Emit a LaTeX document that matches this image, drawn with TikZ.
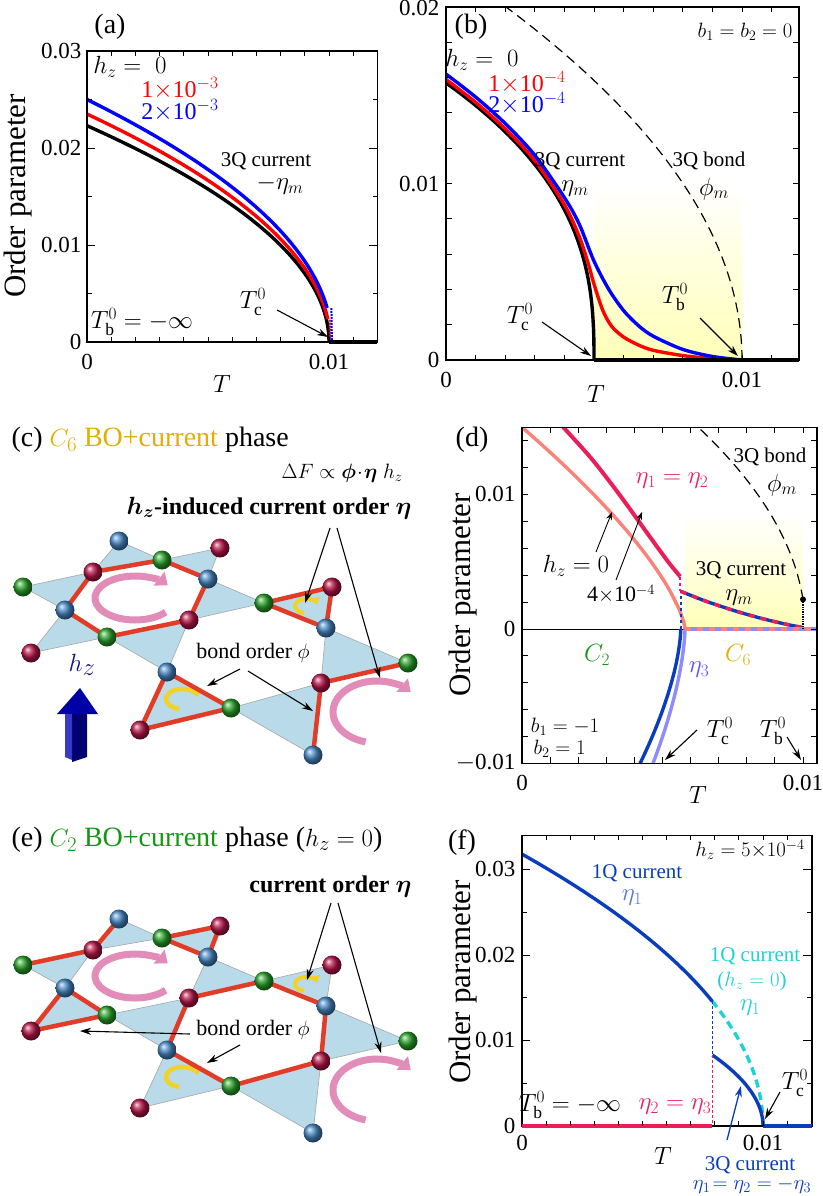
\documentclass[tikz,border=0pt]{standalone}
\usepackage{amsmath,amssymb,bm}
\usepackage{fontspec}
\setmainfont{Liberation Serif}
\usetikzlibrary{arrows.meta}
\definecolor{atB}{RGB}{70,135,195}
\definecolor{atR}{RGB}{180,20,70}
\definecolor{atG}{RGB}{40,160,40}
\definecolor{bondc}{RGB}{225,60,40}
\definecolor{trif}{RGB}{185,218,232}
\definecolor{pinkarc}{RGB}{225,140,185}
\definecolor{yarc}{RGB}{240,210,40}
\definecolor{crim}{RGB}{235,30,90}
\definecolor{salm}{RGB}{250,130,120}
\definecolor{lav}{RGB}{140,140,250}
\definecolor{dblue}{RGB}{10,60,190}
\definecolor{cyanc}{RGB}{30,210,210}
\definecolor{goldc}{RGB}{225,175,0}
\definecolor{grnc}{RGB}{20,150,20}
\definecolor{hzc}{RGB}{20,20,140}
\tikzset{
 tickl/.style={font=\fontsize{23}{24}\selectfont},
 axt/.style={font=\fontsize{31}{32}\selectfont},
 plab/.style={font=\fontsize{28}{29}\selectfont},
 ann/.style={font=\fontsize{21}{22}\selectfont},
 mA/.style={font=\fontsize{24}{25}\selectfont},
 mB/.style={font=\fontsize{25}{26}\selectfont},
 head/.style={font=\fontsize{28}{29}\selectfont, anchor=west},
 thk/.style={line width=3.4pt},
 arr/.style={-{Stealth[length=11pt,width=7pt]}, line width=1.1pt},
 bond/.style={bondc, line width=4.5pt, line cap=round},
 tri/.style={fill=trif, draw=gray!70, line width=0.6pt}
}
\newcommand\AtB[1]{\shade[ball color=atB] (#1) circle (9.5);}
\newcommand\AtR[1]{\shade[ball color=atR] (#1) circle (9.5);}
\newcommand\AtG[1]{\shade[ball color=atG] (#1) circle (9.5);}
\newcommand\LatCoords{%
 \coordinate (R1) at (93,572); \coordinate (G1) at (162,560); \coordinate (B1) at (208,579);
 \coordinate (R2) at (189,620); \coordinate (G2) at (107,637); \coordinate (B2) at (65,610);
 \coordinate (B0) at (119,541); \coordinate (R0) at (220,548); \coordinate (G3) at (264,603);
 \coordinate (B3) at (167,672); \coordinate (R3) at (31,653); \coordinate (G0) at (23,587);
 \coordinate (B4) at (326,628); \coordinate (R4) at (321,683); \coordinate (G4) at (231,708);
 \coordinate (R5) at (332,587); \coordinate (G5) at (408,663); \coordinate (B5) at (313,755);
 \coordinate (R6) at (140,730);}
\newcommand\LatTris{%
 \foreach \a/\b/\c in {R1/G1/B0,G1/B1/R0,B1/R2/G3,R2/G2/B3,G2/B2/R3,B2/R1/G0,G3/B4/R5,B4/R4/G5,R4/G4/B5,G4/B3/R6}
   {\draw[tri] (\a)--(\b)--(\c)--cycle;}
 \begin{scope}
 \clip (0,400) rectangle (418,1196);
 \draw[pinkarc, line width=7pt, -{Triangle[width=17pt,length=11pt]}] (135,598) ++(40:40 and 22) arc (40:325:40 and 22);
 \draw[pinkarc, line width=7pt, -{Triangle[width=17pt,length=11pt]}] (377,712) ++(105:44 and 31) arc (105:320:44 and 31);
 \end{scope}
 \draw[yarc, line width=4pt, -{Triangle[width=10pt,length=7pt]}] (306,606) ++(100:11 and 7) arc (100:350:11 and 7);
 \draw[yarc, line width=4.5pt, -{Triangle[width=12pt,length=8pt]}] (182,699) ++(100:16 and 10) arc (100:350:16 and 10);}
\newcommand\LatAtoms{%
 \AtB{B0}\AtB{B1}\AtB{B2}\AtB{B3}\AtB{B4}\AtB{B5}
 \AtR{R0}\AtR{R1}\AtR{R2}\AtR{R3}\AtR{R4}\AtR{R5}\AtR{R6}
 \AtG{G0}\AtG{G1}\AtG{G2}\AtG{G3}\AtG{G4}\AtG{G5}}
\begin{document}
\begin{tikzpicture}[x=1pt,y=-1pt]
\useasboundingbox (0,0) rectangle (822,1196);
\fill[white] (0,0) rectangle (822,1196);

%%%%%%%%%%%%%%%% (a)
\begin{scope}[shift={(87,342)},xscale=24.2,yscale=-9.7]
 \draw[black, thk] plot[domain=0:1,samples=60] ({10*(1-\x*\x)},{22.3*\x});
 \draw[red, thk] plot[domain=0.1:1,samples=60] ({10.05*(1-\x*\x)},{23.5*\x});
 \draw[red, line width=2pt, densely dotted] (10.03,2.3) -- (10.05,0);
 \draw[blue, thk] plot[domain=0.14:1,samples=60] ({10.12*(1-\x*\x)},{25*\x});
 \draw[blue, line width=2pt, densely dotted] (10.1,3.5) -- (10.12,0);
 \draw[thk] (10,0) -- (12,0);
 \draw[line width=1.3pt] (0,0) rectangle (12,30);
 \foreach \t in {1,...,11} {\draw[line width=0.9pt] (\t,0) -- ++(0,0.5); \draw[line width=0.9pt] (\t,30) -- ++(0,-0.5);}
 \foreach \v in {5,15,25} {\draw[line width=0.9pt] (0,\v) -- ++(0.2,0); \draw[line width=0.9pt] (12,\v) -- ++(-0.2,0);}
 \foreach \v in {10,20} {\draw[line width=0.9pt] (0,\v) -- ++(0.35,0); \draw[line width=0.9pt] (12,\v) -- ++(-0.35,0);}
\end{scope}
\node[plab] (la) at (110,27) {(a)};
\foreach \v/\y in {0.03/51,0.02/148,0.01/245,0/342} \node[tickl,anchor=east] at (85,\y) {\v};
\node[tickl] (a0) at (87,362) {0};
\node[tickl] (a1) at (329,362) {0.01};
\node[axt] (aT) at (222,384) {$T$};
\node[axt,rotate=90] (ay) at (18,196) {Order parameter};
\node[mA] (ahz) at (130,67) {$h_z=\;0$};
\node[mA,red] (ah1) at (180,88) {1$\times$10$^{-3}$};
\node[mA,blue] (ah2) at (180,110) {2$\times$10$^{-3}$};
\node[ann] (a3q) at (266,161) {3Q current};
\node[mA] (aeta) at (280,185) {$-\eta_m$};
\node[mB] (atc) at (253,302) {$T_{\mathrm{c}}^0$};
\coordinate (atcE) at (328,337);
\draw[arr] (277,310) -- (atcE);
\node[mB] (atb) at (142,322) {$T_{\mathrm{b}}^0=-\infty$};

%%%%%%%%%%%%%%%% (b)
\begin{scope}[shift={(446,360)},xscale=29.6,yscale=-17.65]
 \shade[top color=white, bottom color=yellow!28] (5,0) rectangle (10,10);
 \begin{scope}
 \clip (0,0) rectangle (11.93,20);
 \draw[black, line width=1.2pt, dash pattern=on 10pt off 6pt] plot[domain=0:0.9,samples=60] ({10*(1-\x*\x)},{22.4*\x});
 \end{scope}
 \draw[black, thk] plot[domain=0.0001:1,samples=80] ({5*(1-\x^2.63)},{15.7*\x});
 \draw[red, thk] plot[smooth] coordinates {(0,15.9) (1,14.6) (2,13.1) (3,11.3) (4,8.8) (4.5,7.0) (4.8,5.5) (5,4.3) (5.3,2.8) (5.6,1.9) (6,1.3) (6.5,0.85) (7,0.55) (8,0.25) (9,0.08) (10,0)};
 \draw[blue, thk] plot[smooth] coordinates {(0,16.2) (1,14.9) (2,13.4) (3,11.6) (4,9.2) (4.5,7.7) (5,5.6) (5.5,4.0) (6,2.8) (6.5,1.95) (7,1.35) (8,0.6) (9,0.2) (10,0)};
 \draw[thk] (5,0) -- (11.93,0);
 \draw[line width=1.3pt] (0,0) rectangle (11.93,20);
 \foreach \t in {1,...,11} {\draw[line width=0.9pt] (\t,0) -- ++(0,0.3); \draw[line width=0.9pt] (\t,20) -- ++(0,-0.3);}
 \foreach \v in {2,4,...,18} {\draw[line width=0.9pt] (0,\v) -- ++(0.2,0); \draw[line width=0.9pt] (11.93,\v) -- ++(-0.2,0);}
\end{scope}
\node[plab] (lb) at (471,27) {(b)};
\foreach \v/\y in {0.02/8,0.01/184,0/360} \node[tickl,anchor=east] at (443,\y) {\v};
\node[tickl] (b0) at (446,380) {0};
\node[tickl] (b1) at (742,380) {0.01};
\node[axt] (bT) at (596,394) {$T$};
\node[ann] (bb) at (745,32) {$b_1=b_2=0$};
\node[mA] (bhz) at (482,60) {$h_z=\;0$};
\node[mA,red] (bh1) at (527,82) {1$\times$10$^{-4}$};
\node[mA,blue] (bh2) at (527,103) {2$\times$10$^{-4}$};
\node[ann] (b3q) at (580,161) {3Q current};
\node[mA] (beta) at (575,189) {$\eta_m$};
\node[ann] (b3b) at (709,161) {3Q bond};
\node[mA] (bphi) at (714,189) {$\phi_m$};
\node[mB] (btc) at (520,317) {$T_{\mathrm{c}}^0$};
\node[mB] (btb) at (675,297) {$T_{\mathrm{b}}^0$};
\coordinate (btcE) at (591,356); \coordinate (btbE) at (738,356);
\draw[arr] (542,322) -- (btcE);
\draw[arr] (700,318) -- (btbE);

%%%%%%%%%%%%%%%% (d)
\begin{scope}[shift={(522,629)},xscale=28.1,yscale=-13.45]
 \shade[top color=white, bottom color=yellow!28] (5.8,0) rectangle (10,8.6);
 \begin{scope}
 \clip (0,-10) rectangle (10.5,15);
 \draw[black, line width=1.2pt, dash pattern=on 10pt off 6pt] plot[domain=0.09:0.63,samples=60] ({10.08*(1-\x*\x)},{24.4*\x});
 \draw[salm, thk] plot[domain=0.0001:1,samples=80] ({5.8*(1-\x^1.43)},{15*\x});
 \draw[crim, line width=4pt] plot[smooth] coordinates {(1.47,15) (2.5,12.6) (3.5,9.9) (4.5,7.0) (5.2,5.0) (5.63,3.9)};
 \end{scope}
 \draw[black, line width=0.9pt] (0,0) -- (5.8,0);
 \draw[lav, thk] plot[domain=0:1,samples=50] ({5.8-1.14*\x^1.6},{-10*\x});
 \draw[dblue, thk] plot[domain=0:1,samples=50] ({5.65-1.45*\x^1.6},{-10*\x});
 \draw[dblue, line width=1.8pt, dashed] (5.65,0) -- (5.65,2.8);
 \draw[crim, line width=2.4pt, dashed] (5.63,3.9) -- (5.63,2.8);
 \draw[dblue, thk] plot[smooth] coordinates {(5.65,2.8) (6.5,2.1) (7.5,1.4) (8.5,0.8) (9.3,0.4) (10,0.1)};
 \draw[crim, thk, dash pattern=on 6pt off 6pt] plot[smooth] coordinates {(5.65,2.8) (6.5,2.1) (7.5,1.4) (8.5,0.8) (9.3,0.4) (10,0.1)};
 \draw[lav, thk] (5.8,0) -- (10.5,0);
 \draw[salm, thk, dash pattern=on 6pt off 6pt] (5.8,0) -- (10.5,0);
 \draw[line width=1.4pt, densely dotted] (10,2.2) -- (10,0);
 \coordinate (dDot) at (10,2.2);
 \draw[line width=1.3pt] (0,-10) rectangle (10.5,15);
 \foreach \t in {1,...,10} {\draw[line width=0.9pt] (\t,-10) -- ++(0,0.45); \draw[line width=0.9pt] (\t,15) -- ++(0,-0.45);}
 \foreach \v in {-8,-6,...,14} {\draw[line width=0.9pt] (0,\v) -- ++(0.2,0); \draw[line width=0.9pt] (10.5,\v) -- ++(-0.2,0);}
\end{scope}
\fill (dDot) circle (3);
\node[plab] (ld) at (472,440) {(d)};
\foreach \v/\y in {0.01/494,0/629,$-$0.01/763} \node[tickl,anchor=east] at (519,\y) {\v};
\node[tickl] (d0) at (522,783) {0};
\node[tickl] (d1) at (803,783) {0.01};
\node[axt] (dT) at (698,795) {$T$};
\node[axt,rotate=90] (dy) at (463,595) {Order parameter};
\node[ann] (d3b) at (770,457) {3Q bond};
\node[mA] (dphi) at (782,485) {$\phi_m$};
\node[mA,crim] (deta12) at (672,481) {$\eta_1=\eta_2$};
\node[mA] (dhz0) at (576,566) {$h_z=0$};
\node[ann,font=\fontsize{22}{23}\selectfont] (dhz4) at (621,594) {4$\times$10$^{-4}$};
\coordinate (dA1) at (612,512); \coordinate (dA2) at (642,512);
\draw[-{Stealth[length=8pt,width=6pt]}, line width=0.9pt] (596,552) -- (dA1);
\draw[-{Stealth[length=8pt,width=6pt]}, line width=0.9pt] (616,580) -- (dA2);
\node[ann] (d3q) at (741,570) {3Q current};
\node[mA] (deta) at (739,598) {$\eta_m$};
\node[mB,grnc] (dc2) at (597,655) {$C_2$};
\node[mB,goldc] (dc6) at (738,655) {$C_6$};
\node[mA,lav!60!blue] (deta3) at (699,670) {$\eta_3$};
\node[ann] (db1) at (565,727) {$b_1=-1$};
\node[ann,anchor=west] (db2) at (530,749) {$b_2=1$};
\node[mB] (dtc) at (720,731) {$T_{\mathrm{c}}^0$};
\node[mB] (dtb) at (773,731) {$T_{\mathrm{b}}^0$};
\coordinate (dtcE) at (665,760); \coordinate (dtbE) at (801,760);
\draw[arr] (697,730) -- (dtcE);
\draw[arr] (787,737) -- (dtbE);

%%%%%%%%%%%%%%%% (f)
\begin{scope}[shift={(522,1126)},xscale=24.1,yscale=-8.55]
 \draw[dblue, thk] plot[domain=0.458:1,samples=60] ({10*(1-\x*\x)},{31.8*\x});
 \draw[cyanc, thk, dash pattern=on 8pt off 5pt] plot[domain=0:0.458,samples=40] ({10*(1-\x*\x)},{31.8*\x});
 \draw[dblue, thk] plot[domain=0:1,samples=50] ({10-2.1*\x*\x},{8.3*\x});
 \draw[dblue, line width=1.5pt, densely dashed] (7.9,14.6) -- (7.9,8.3);
 \draw[crim, line width=1.5pt, densely dashed] (7.9,8.3) -- (7.9,0);
 \draw[line width=1.3pt] (0,0) rectangle (12.03,34);
 \draw[crim, thk] (0,0) -- (7.9,0);
 \draw[dblue, thk] (10,0) -- (12.03,0);
 \foreach \t in {1,...,11} {\draw[line width=0.9pt] (\t,0) -- ++(0,0.6); \draw[line width=0.9pt] (\t,34) -- ++(0,-0.6);}
 \foreach \v in {5,15,25} {\draw[line width=0.9pt] (0,\v) -- ++(0.2,0); \draw[line width=0.9pt] (12.03,\v) -- ++(-0.2,0);}
 \foreach \v in {10,20,30} {\draw[line width=0.9pt] (0,\v) -- ++(0.35,0); \draw[line width=0.9pt] (12.03,\v) -- ++(-0.35,0);}
\end{scope}
\node[plab] (lf) at (462,843) {(f)};
\foreach \v/\y in {0.03/869,0.02/955,0.01/1040,0/1126} \node[tickl,anchor=east] at (519,\y) {\v};
\node[tickl] (f0) at (522,1143) {0};
\node[tickl] (f1) at (763,1143) {0.01};
\node[axt] (fT) at (663,1156) {$T$};
\node[axt,rotate=90] (fy) at (463,982) {Order parameter};
\node[ann,font=\fontsize{22}{23}\selectfont] (fhz) at (750,850) {$h_z=5{\times}10^{-4}$};
\node[ann,dblue] (f1q) at (637,873) {1Q current};
\node[mA,dblue!70] (feta1) at (632,898) {$\eta_1$};
\node[ann,cyanc] (f1qc) at (755,956) {1Q current};
\node[ann,cyanc] (fhz0) at (752,981) {($h_z=0$)};
\node[mA,cyanc] (feta1c) at (750,1008) {$\eta_1$};
\node[mB] (ftb) at (570,1105) {$T_{\mathrm{b}}^0=-\infty$};
\node[mA,crim] (feta23) at (675,1107) {$\eta_2=\eta_3$};
\node[mB] (ftc) at (795,1083) {$T_{\mathrm{c}}^0$};
\coordinate (ftcE) at (765,1119);
\draw[arr] (780,1092) -- (ftcE);
\node[ann,dblue] (f3q) at (750,1165) {3Q current};
\node[ann,dblue,font=\fontsize{22}{23}\selectfont] (f3qe) at (752,1185) {$\eta_1\!=\eta_2=-\eta_3$};
\coordinate (f3qE) at (741,1086);
\draw[dblue,-{Stealth[length=11pt,width=7pt]}, line width=1.3pt] (727,1140) -- (f3qE);

%%%%%%%%%%%%%%%% (c)
\begin{scope}
\LatCoords
\LatTris
\draw[bond] (R1)--(G1)--(B1)--(R2)--(G2)--(B2)--cycle;
\draw[bond] (G3)--(R5)--(B4)--cycle;
\draw[bond] (B3)--(G4)--(R6)--cycle;
\draw[bond] (G5)--(R4)--(B5);
\LatAtoms
\end{scope}
\node[head] (hc) at (8,440) {(c) \textcolor{goldc}{$C_6$ BO+current} phase};
\node[ann,anchor=east,font=\fontsize{22}{23}\selectfont] (cdf) at (406,473) {$\Delta F\propto\bm{\phi}\!\cdot\!\bm{\eta}\;h_z$};
\node[ann,anchor=east,font=\fontsize{24}{25}\selectfont\bfseries] (ccur) at (415,508) {$\bm{h_z}$-induced current order $\bm{\eta}$};
\coordinate (cc1) at (305,603); \coordinate (cc2) at (380,678);
\draw[arr] (330,528) -- (cc1);
\draw[arr] (337,528) -- (cc2);
\node[ann,font=\fontsize{22}{23}\selectfont] (cbo) at (253,653) {bond order $\phi$};
\coordinate (cb1) at (207,686); \coordinate (cb2) at (313,711);
\draw[arr] (240,669) -- (cb1);
\draw[arr] (248,671) -- (cb2);
% hz arrow
\fill[blue!45!black] (72,714) -- (72,762) -- (87,757) -- (87,714) -- cycle;
\fill[blue!65!black] (57,714) -- (98,714) -- (80,688) -- cycle;
\fill[blue!55!gray] (65,714) -- (72,714) -- (72,760) -- (65,757) -- cycle;
\node[hzc,font=\fontsize{36}{37}\selectfont] (chz) at (82,665) {$h_z$};

%%%%%%%%%%%%%%%% (e)
\begin{scope}[yshift=-378pt]
\LatCoords
\LatTris
\draw[bond] (B0)--(R1)--(G0);
\draw[bond] (G1)--(R0)--(B1)--cycle;
\draw[bond] (B2)--(R3)--(G2)--cycle;
\draw[bond] (R2)--(G3)--(B4)--(R4)--(G4)--(B3)--cycle;
\LatAtoms
\end{scope}
\node[head] (he) at (8,840) {(e) \textcolor{grnc}{$C_2$ BO+current} phase ($h_z=0$)};
\node[ann,anchor=east,font=\fontsize{24}{25}\selectfont\bfseries] (ecur) at (415,887) {current order $\bm{\eta}$};
\coordinate (ec1) at (307,980); \coordinate (ec2) at (381,1053);
\draw[arr] (331,903) -- (ec1);
\draw[arr] (338,903) -- (ec2);
\node[ann,font=\fontsize{22}{23}\selectfont] (ebo) at (253,1030) {bond order $\phi$};
\coordinate (eb1) at (80,1031); \coordinate (eb2) at (207,1063);
\draw[arr] (190,1034) -- (eb1);
\draw[arr] (240,1045) -- (eb2);
\end{tikzpicture}
\end{document}
